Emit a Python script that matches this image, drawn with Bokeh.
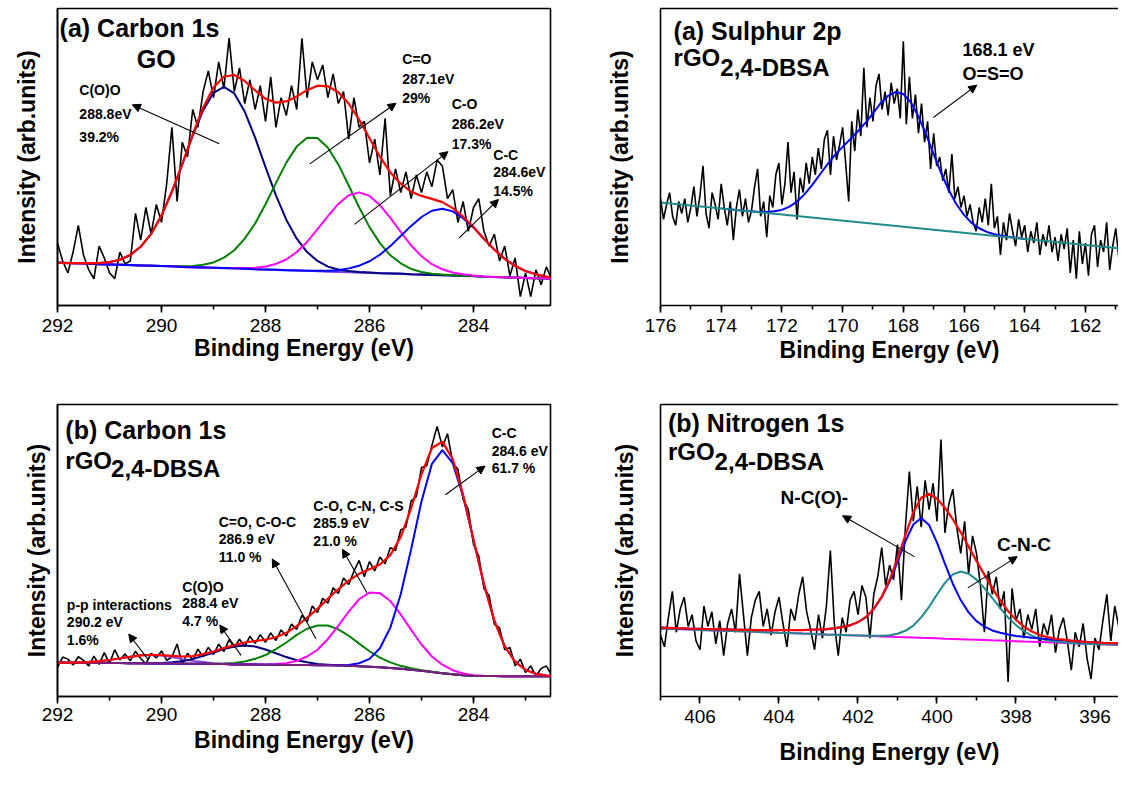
from bokeh.plotting import figure
from bokeh.layouts import column, row
from bokeh.models import (Range1d, SingleIntervalTicker, FixedTicker, Label, Arrow,
                          NormalHead, LinearAxis)
from bokeh.embed import file_html
from bokeh.resources import INLINE

FONT = "Liberation Sans"

# ======================= DATA =======================
# ---- (a) Carbon 1s, GO ----
go_raw_start, go_raw_step = 292.0, 0.1
go_raw = [21, 15, 11, 18, 27, 17, 12, 9, 20, 16,
          11, 9, 18, 14, 15, 31, 22, 33, 24, 34,
          28, 41, 60, 35, 55, 50, 66, 60, 72, 79,
          70, 82, 73, 90, 72, 80, 68, 76, 66, 74,
          62, 77, 60, 70, 64, 74, 66, 90, 70, 82,
          76, 81, 70, 78, 68, 72, 56, 70, 60, 62,
          48, 56, 44, 63, 37, 46, 38, 45, 36, 44,
          38, 45, 40, 49, 47, 36, 39, 28, 35, 25,
          33, 36, 25, 20, 24, 15, 20, 10, 16, 3,
          11, 3, 12, 7, 13, 9]
go_fit_start, go_fit_step = 292.0, 0.2
go_bg = [14.4, 14.3, 14.2, 14.1, 13.9, 13.8, 13.7, 13.6, 13.5, 13.4,
         13.3, 13.2, 13.0, 12.9, 12.8, 12.7, 12.6, 12.5, 12.4, 12.2,
         12.1, 12.0, 11.9, 11.8, 11.7, 11.6, 11.4, 11.3, 11.2, 11.1,
         11.0, 10.9, 10.8, 10.7, 10.5, 10.4, 10.3, 10.2, 10.1, 10.0,
         9.9, 9.7, 9.6, 9.5, 9.4, 9.3, 9.2, 9.1, 8.9]
go_coo = [0, 0, 0.1, 0.2, 0.4, 0.8, 1.7, 3.4, 6.3, 10.7,
          17.0, 25.1, 34.5, 44.3, 52.9, 58.9, 61.0, 58.9, 52.9, 44.3,
          34.5, 25.1, 17.0, 10.7, 6.3, 3.4, 1.7, 0.8, 0.4, 0.2,
          0.1, 0, 0, 0, 0, 0, 0, 0, 0, 0,
          0, 0, 0, 0, 0, 0, 0, 0, 0]
go_c_eq_o = [0, 0, 0, 0, 0, 0, 0, 0, 0, 0,
             0, 0.1, 0.2, 0.4, 0.9, 1.8, 3.5, 6.1, 10.1, 15.4,
             22.0, 29.2, 36.2, 41.7, 44.8, 44.8, 41.7, 36.2, 29.2, 22.0,
             15.4, 10.1, 6.1, 3.5, 1.8, 0.9, 0.4, 0.2, 0.1, 0,
             0, 0, 0, 0, 0, 0, 0, 0, 0]
go_c_o = [0, 0, 0, 0, 0, 0, 0, 0, 0, 0,
          0, 0, 0, 0, 0, 0, 0, 0.1, 0.2, 0.5,
          1.0, 2.0, 3.6, 6.2, 9.7, 14.1, 18.7, 22.9, 25.9, 27.0,
          25.9, 22.9, 18.7, 14.1, 9.7, 6.2, 3.6, 2.0, 1.0, 0.5,
          0.2, 0.1, 0, 0, 0, 0, 0, 0, 0]
go_c_c = [0, 0, 0, 0, 0, 0, 0, 0, 0, 0,
          0, 0, 0, 0, 0, 0, 0, 0, 0, 0,
          0, 0, 0, 0, 0, 0.1, 0.3, 0.6, 1.3, 2.3,
          3.9, 6.2, 9.2, 12.7, 16.3, 19.4, 21.6, 22.4, 21.6, 19.4,
          16.3, 12.7, 9.2, 6.2, 3.9, 2.3, 1.3, 0.6, 0.3]

# ---- (a) Sulphur 2p, rGO 2,4-DBSA ----
s2p_raw_start, s2p_raw_step = 176.0, 0.1
s2p_raw = [36, 29, 34, 38, 30, 27, 35, 31, 36, 28,
           33, 40, 30, 37, 47, 31, 26, 38, 34, 29,
           41, 33, 27, 35, 22, 33, 39, 30, 36, 28,
           32, 40, 46, 30, 35, 23, 37, 33, 44, 48,
           34, 41, 55, 38, 45, 29, 43, 38, 48, 41,
           50, 44, 53, 46, 56, 59, 44, 57, 49, 54,
           60, 48, 35, 62, 52, 66, 57, 80, 60, 70,
           62, 74, 78, 66, 72, 64, 75, 68, 73, 63,
           89, 61, 77, 63, 71, 58, 68, 55, 62, 46,
           58, 47, 50, 42, 46, 38, 51, 36, 40, 33,
           37, 30, 34, 28, 25, 33, 28, 36, 27, 41,
           26, 30, 17, 28, 22, 31, 25, 20, 29, 23,
           27, 18, 25, 21, 28, 17, 24, 20, 27, 18,
           23, 15, 24, 19, 26, 11, 22, 9, 25, 14,
           21, 10, 24, 27, 13, 22, 18, 28, 12, 20,
           26, 16]
s2p_fit_start, s2p_fit_step = 174.0, 0.25
s2p_fit = [32.7, 32.4, 32.15, 31.9, 31.7, 31.5, 31.5, 31.7, 32.2, 33.3,
           35.0, 37.5, 40.6, 44.1, 47.5, 50.7, 53.4, 56.0, 58.6, 61.5,
           64.7, 68.1, 70.6, 71.9, 71.2, 68.4, 63.6, 57.6, 51.0, 44.5,
           38.8, 34.1, 30.5, 27.8, 26.0, 24.8, 24.0, 23.5, 23.05, 22.7,
           22.4]
s2p_bg_energy = [176.0, 160.65]
s2p_bg = [34.7, 19.0]

# ---- (b) Carbon 1s, rGO 2,4-DBSA ----
rgo_raw_start, rgo_raw_step = 292.0, 0.1
rgo_raw = [10.0, 13.5, 12.8, 10.8, 13.6, 12.4, 10.5, 13.8, 11.0, 15.0,
           11.2, 16.0, 12.5, 14.6, 12.2, 15.5, 13.0, 11.2, 14.8, 13.2,
           15.6, 12.4, 13.5, 18.0, 11.0, 14.8, 12.6, 16.2, 13.6, 16.8,
           14.4, 17.9, 15.4, 19.5, 16.8, 19.6, 17.2, 20.6, 18.2, 21.2,
           18.6, 21.8, 19.2, 22.8, 20.7, 24.8, 23.0, 27.8, 25.5, 31.0,
           28.8, 33.6, 32.0, 37.2, 35.3, 40.6, 38.4, 42.9, 46.6, 41.0,
           46.2, 43.0, 47.8, 45.5, 51.0, 50.0, 57.0, 58.0, 67.0, 68.5,
           78.4, 79.0, 86.0, 92.5, 85.5, 90.0, 80.0, 77.8, 67.5, 64.0,
           52.0, 48.2, 37.0, 34.5, 24.8, 23.5, 16.0, 16.8, 10.5, 12.8,
           8.2, 10.5, 7.0, 9.6, 10.5, 7.3]
rgo_fit_start, rgo_fit_step = 292.0, 0.2
rgo_bg = [11.6, 11.6, 11.6, 11.5, 11.5, 11.5, 11.5, 11.4, 11.4, 11.3,
          11.3, 11.3, 11.2, 11.2, 11.2, 11.1, 11.1, 11.0, 11.0, 11.0,
          10.9, 10.9, 10.8, 10.8, 10.8, 10.7, 10.7, 10.6, 10.5, 10.4,
          10.2, 10.0, 9.8, 9.5, 9.2, 8.8, 8.4, 8.0, 7.6, 7.3,
          7.1, 7.0, 7.0, 6.9, 6.9, 6.9, 6.9, 6.9, 6.9]
rgo_pp = [0, 0, 0.1, 0.3, 0.6, 1.0, 1.6, 2.2, 2.7, 2.9,
          2.7, 2.2, 1.6, 1.0, 0.6, 0.3, 0.1, 0, 0, 0,
          0, 0, 0, 0, 0, 0, 0, 0, 0, 0,
          0, 0, 0, 0, 0, 0, 0, 0, 0, 0,
          0, 0, 0, 0, 0, 0, 0, 0, 0]
rgo_coo = [0, 0, 0, 0, 0, 0, 0, 0, 0, 0.1,
           0.2, 0.4, 0.9, 1.6, 2.7, 3.9, 5.2, 6.1, 6.5, 6.1,
           5.2, 3.9, 2.7, 1.6, 0.9, 0.4, 0.2, 0.1, 0, 0,
           0, 0, 0, 0, 0, 0, 0, 0, 0, 0,
           0, 0, 0, 0, 0, 0, 0, 0, 0]
rgo_c_eq_o = [0, 0, 0, 0, 0, 0, 0, 0, 0, 0,
              0, 0, 0, 0, 0, 0.1, 0.2, 0.5, 1.0, 1.9,
              3.3, 5.3, 7.7, 10.3, 12.4, 13.6, 13.6, 12.4, 10.3, 7.7,
              5.3, 3.3, 1.9, 1.0, 0.5, 0.2, 0.1, 0, 0, 0,
              0, 0, 0, 0, 0, 0, 0, 0, 0]
rgo_c_o = [0, 0, 0, 0, 0, 0, 0, 0, 0, 0,
           0, 0, 0, 0, 0, 0, 0, 0, 0, 0,
           0.1, 0.2, 0.6, 1.4, 2.9, 5.3, 9.0, 13.6, 18.6, 22.9,
           25.4, 25.4, 22.9, 18.6, 13.6, 9.0, 5.3, 2.9, 1.4, 0.6,
           0.2, 0.1, 0, 0, 0, 0, 0, 0, 0]
rgo_c_c = [0, 0, 0, 0, 0, 0, 0, 0, 0, 0,
           0, 0, 0, 0, 0, 0, 0, 0, 0, 0,
           0, 0, 0, 0, 0, 0, 0, 0.1, 0.3, 1.0,
           2.7, 6.5, 13.8, 25.5, 41.2, 58.1, 71.3, 76.4, 72.3, 61.2,
           46.4, 31.4, 19.0, 10.3, 5.0, 2.2, 0.9, 0.3, 0.1]

# ---- (b) Nitrogen 1s, rGO 2,4-DBSA ----
n1s_raw_start, n1s_raw_step = 407.0, 0.1
n1s_raw = [21, 17, 27, 36, 22, 30, 34, 24, 28, 19,
           16, 31, 24, 29, 18, 26, 14, 25, 30, 22,
           42, 28, 14, 27, 33, 36, 24, 30, 21, 29,
           34, 25, 17, 30, 26, 35, 41, 29, 23, 16,
           28, 20, 31, 50, 25, 14, 27, 22, 33, 36,
           28, 38, 34, 20, 35, 41, 51, 38, 45, 40,
           52, 33, 58, 77, 60, 72, 58, 74, 64, 73,
           60, 88, 56, 66, 71, 58, 49, 60, 42, 55,
           49, 38, 22, 43, 35, 41, 30, 36, 5, 37,
           26, 30, 20, 28, 23, 30, 17, 25, 21, 28,
           15, 23, 27, 19, 9, 22, 17, 25, 13, 6,
           20, 16, 26, 35, 19, 31, 24, 14, 22]
n1s_fit_start, n1s_fit_step = 407.0, 0.2
n1s_bg = [23.30, 23.20, 23.10, 23.01, 22.91, 22.81, 22.72, 22.62, 22.52, 22.43,
          22.33, 22.23, 22.14, 22.04, 21.94, 21.84, 21.75, 21.65, 21.55, 21.46,
          21.36, 21.26, 21.17, 21.07, 20.97, 20.88, 20.78, 20.68, 20.59, 20.49,
          20.39, 20.30, 20.20, 20.10, 20.01, 19.91, 19.81, 19.72, 19.62, 19.52,
          19.43, 19.33, 19.23, 19.14, 19.04, 18.94, 18.84, 18.75, 18.65, 18.55,
          18.46, 18.36, 18.26, 18.17, 18.07, 17.97, 17.88, 17.78, 17.68, 17.59]
n1s_nco = [0.3, 0.3, 0.3, 0.3, 0.3, 0.4, 0.4, 0.4, 0.5, 0.5,
           0.5, 0.6, 0.6, 0.7, 0.8, 0.9, 1.0, 1.1, 1.2, 1.4,
           1.6, 1.8, 2.2, 2.7, 3.4, 4.6, 6.4, 9.3, 13.4, 18.9,
           25.7, 32.8, 38.7, 41.0, 38.7, 32.8, 25.7, 18.9, 13.4, 9.3,
           6.4, 4.6, 3.4, 2.7, 2.2, 1.8, 1.6, 1.4, 1.2, 1.1,
           1.0, 0.9, 0.8, 0.7, 0.6, 0.6, 0.5, 0.5, 0.5, 0.4]
n1s_cnc = [0, 0, 0, 0, 0, 0, 0, 0, 0, 0,
           0, 0, 0, 0, 0, 0, 0, 0, 0, 0,
           0, 0, 0, 0, 0, 0, 0, 0.1, 0.2, 0.5,
           1.1, 2.2, 4.1, 7.0, 10.7, 15.0, 19.1, 22.1, 23.2, 22.5,
           20.6, 17.8, 14.5, 11.1, 8.0, 5.5, 3.5, 2.1, 1.2, 0.7,
           0.3, 0.2, 0.1, 0, 0, 0, 0, 0, 0, 0]

X_LABEL = "Binding Energy (eV)"
Y_LABEL = "Intensity (arb.units)"


def grid(start, step, n):
    return [round(start - step * i, 3) for i in range(n)]


def add(*series):
    return [round(sum(v), 3) for v in zip(*series)]


# ======================= STYLE HELPERS =======================
def panel(width, height, xr, borders, open_right, ylabel_standoff, xlabel_standoff,
          tick_label_standoff=6):
    left, right, top, bottom = borders
    p = figure(width=width, height=height, x_range=Range1d(*xr), y_range=Range1d(0, 100),
               output_backend="svg", toolbar_location=None,
               min_border_left=left, min_border_right=right,
               min_border_top=top, min_border_bottom=bottom,
               background_fill_color="white", border_fill_color="white")
    p.xgrid.visible = False
    p.ygrid.visible = False
    xa = p.xaxis[0]
    xa.ticker = SingleIntervalTicker(interval=2, num_minor_ticks=2)
    xa.major_tick_out, xa.major_tick_in = 7, 0
    xa.minor_tick_out, xa.minor_tick_in = 4, 0
    xa.axis_line_width = 1.6
    xa.major_tick_line_width = 1.6
    xa.minor_tick_line_width = 1.6
    xa.axis_line_color = "black"
    xa.major_label_text_font = FONT
    xa.major_label_text_font_size = "19px"
    xa.major_label_text_color = "black"
    xa.major_label_standoff = tick_label_standoff
    xa.axis_label = X_LABEL
    xa.axis_label_text_font = FONT
    xa.axis_label_text_font_size = "23px"
    xa.axis_label_text_font_style = "bold"
    xa.axis_label_text_color = "black"
    xa.axis_label_standoff = xlabel_standoff
    ya = p.yaxis[0]
    ya.ticker = FixedTicker(ticks=[])
    ya.major_tick_out = 0
    ya.major_label_standoff = 0
    ya.axis_line_width = 1.6
    ya.axis_line_color = "black"
    ya.axis_label = Y_LABEL
    ya.axis_label_text_font = FONT
    ya.axis_label_text_font_size = "23px"
    ya.axis_label_text_font_style = "bold"
    ya.axis_label_text_color = "black"
    ya.axis_label_standoff = ylabel_standoff
    if open_right:
        p.outline_line_color = None
        top_ax = LinearAxis(ticker=FixedTicker(ticks=[]), major_tick_out=0, major_tick_in=0,
                            major_label_standoff=0, axis_line_width=1.6, axis_line_color="black")
        p.add_layout(top_ax, "above")
    else:
        p.outline_line_color = "black"
        p.outline_line_width = 1.6
        p.outline_line_alpha = 1.0
    return p


def txt(p, x, y, s, size, bold=True, align="left"):
    p.add_layout(Label(x=x, y=y, text=s, text_font=FONT, text_font_size=f"{size}px",
                       text_font_style="bold" if bold else "normal",
                       text_align=align, text_baseline="middle", text_color="black"))


def arrow(p, x0, y0, x1, y1):
    p.add_layout(Arrow(end=NormalHead(size=8, fill_color="black", line_color="black", line_width=1),
                       x_start=x0, y_start=y0, x_end=x1, y_end=y1,
                       line_color="black", line_width=1.1))


RED, BLUE, NAVY, GREEN, MAGENTA = "#FF0000", "#0000FF", "#000080", "#008000", "#FF00FF"
TEAL, VIOLET, PURPLE = "#1F8A8A", "#8040E0", "#7A1F7A"

# ======================= (a) C1s GO =======================
p1 = panel(562, 390, (292.0, 282.52), (57, 12, 5, 75), False, 18, 0)
e_raw = grid(go_raw_start, go_raw_step, len(go_raw))
e_fit = grid(go_fit_start, go_fit_step, len(go_bg))
p1.line(e_raw, go_raw, line_color="black", line_width=1.6)
p1.line(e_fit, go_bg, line_color=VIOLET, line_width=2.2)
p1.line(e_fit, add(go_bg, go_coo), line_color=NAVY, line_width=2)
p1.line(e_fit, add(go_bg, go_c_eq_o), line_color=GREEN, line_width=2)
p1.line(e_fit, add(go_bg, go_c_o), line_color=MAGENTA, line_width=2)
p1.line(e_fit, add(go_bg, go_c_c), line_color=BLUE, line_width=2)
p1.line(e_fit, add(go_bg, go_coo, go_c_eq_o, go_c_o, go_c_c), line_color=RED, line_width=2.2)
txt(p1, 291.96, 93.5, "(a) Carbon 1s", 25)
txt(p1, 290.1, 83.1, "GO", 25, align="center")
txt(p1, 291.58, 72.5, "C(O)O", 14)
txt(p1, 291.58, 64.6, "288.8eV", 14)
txt(p1, 291.58, 56.8, "39.2%", 14)
arrow(p1, 288.89, 54.5, 290.56, 67.6)
txt(p1, 285.37, 83.1, "C=O", 14)
txt(p1, 285.37, 76.4, "287.1eV", 14)
txt(p1, 285.37, 69.9, "29%", 14)
arrow(p1, 287.15, 47.7, 285.49, 68.1)
txt(p1, 284.42, 67.7, "C-O", 14)
txt(p1, 284.42, 61.2, "286.2eV", 14)
txt(p1, 284.42, 54.5, "17.3%", 14)
arrow(p1, 286.29, 27.3, 284.49, 51.8)
txt(p1, 283.62, 50.7, "C-C", 14)
txt(p1, 283.62, 44.8, "284.6eV", 14)
txt(p1, 283.62, 38.6, "14.5%", 14)
arrow(p1, 284.28, 22.7, 283.52, 35.7)

# ======================= (a) S2p =======================
p2 = panel(556, 390, (176.0, 160.91), (98, 0, 8, 85), True, 28, 2)
p2.line(grid(s2p_raw_start, s2p_raw_step, len(s2p_raw)), s2p_raw, line_color="black", line_width=1.6)
p2.line(grid(s2p_fit_start, s2p_fit_step, len(s2p_fit)), s2p_fit, line_color=BLUE, line_width=2)
p2.line(s2p_bg_energy, s2p_bg, line_color=TEAL, line_width=2)
txt(p2, 175.57, 92.5, "(a) Sulphur 2p", 25)
txt(p2, 175.57, 83.5, "rGO", 24)
txt(p2, 174.03, 80.1, "2,4-DBSA", 24)
txt(p2, 166.05, 86.1, "168.1 eV", 18)
txt(p2, 166.05, 78.1, "O=S=O", 18)
arrow(p2, 167.01, 63.3, 165.58, 74.2)

# ======================= (b) C1s rGO =======================
p3 = panel(562, 379, (292.0, 282.52), (57, 12, 14, 61), False, 8, 3, tick_label_standoff=4)
e_raw3 = grid(rgo_raw_start, rgo_raw_step, len(rgo_raw))
e_fit3 = grid(rgo_fit_start, rgo_fit_step, len(rgo_bg))
p3.line(e_raw3, rgo_raw, line_color="black", line_width=1.6)
p3.line(e_fit3, add(rgo_bg, rgo_pp), line_color=VIOLET, line_width=2)
p3.line(e_fit3, add(rgo_bg, rgo_coo), line_color=NAVY, line_width=2)
p3.line(e_fit3, add(rgo_bg, rgo_c_eq_o), line_color=GREEN, line_width=2)
p3.line(e_fit3, add(rgo_bg, rgo_c_o), line_color=MAGENTA, line_width=2)
p3.line(e_fit3, add(rgo_bg, rgo_c_c), line_color=BLUE, line_width=2)
p3.line(e_fit3, rgo_bg, line_color=PURPLE, line_width=2)
p3.line(e_fit3, add(rgo_bg, rgo_pp, rgo_coo, rgo_c_eq_o, rgo_c_o, rgo_c_c), line_color=RED, line_width=2.2)
txt(p3, 291.85, 91.4, "(b) Carbon 1s", 25)
txt(p3, 291.85, 80.7, "rGO", 24)
txt(p3, 290.97, 78.0, "2,4-DBSA", 24)
txt(p3, 283.65, 90.1, "C-C", 14)
txt(p3, 283.65, 84.2, "284.6 eV", 14)
txt(p3, 283.65, 78.2, "61.7 %", 14)
arrow(p3, 284.54, 69.1, 283.78, 78.9)
txt(p3, 287.08, 65.1, "C-O, C-N, C-S", 14)
txt(p3, 287.08, 59.4, "285.9 eV", 14)
txt(p3, 287.08, 53.3, "21.0 %", 14)
arrow(p3, 286.05, 35.5, 286.52, 50.4)
txt(p3, 288.90, 59.7, "C=O, C-O-C", 14)
txt(p3, 288.90, 53.8, "286.9 eV", 14)
txt(p3, 288.90, 47.9, "11.0 %", 14)
arrow(p3, 287.03, 19.8, 287.87, 47.1)
txt(p3, 289.60, 37.5, "C(O)O", 14)
txt(p3, 289.60, 32.0, "288.4 eV", 14)
txt(p3, 289.60, 25.9, "4.7 %", 14)
arrow(p3, 288.47, 14.1, 288.88, 24.5)
txt(p3, 291.82, 31.2, "p-p interactions", 14)
txt(p3, 291.82, 25.4, "290.2 eV", 14)
txt(p3, 291.82, 19.4, "1.6%", 14)
arrow(p3, 290.26, 12.7, 290.63, 21.4)

# ======================= (b) N1s =======================
p4 = panel(556, 379, (407.0, 395.405), (98, 0, 11, 73), True, 23, 13)
e_fit4 = grid(n1s_fit_start, n1s_fit_step, len(n1s_bg))
p4.line(grid(n1s_raw_start, n1s_raw_step, len(n1s_raw)), n1s_raw, line_color="black", line_width=1.6)
p4.line(e_fit4, n1s_bg, line_color=MAGENTA, line_width=2)
p4.line(e_fit4, add(n1s_bg, n1s_cnc), line_color=TEAL, line_width=2)
p4.line(e_fit4, add(n1s_bg, n1s_nco), line_color=BLUE, line_width=2)
p4.line(e_fit4, add(n1s_bg, n1s_nco, n1s_cnc), line_color=RED, line_width=2.2)
txt(p4, 406.81, 93.6, "(b) Nitrogen 1s", 25)
txt(p4, 406.81, 83.8, "rGO", 24)
txt(p4, 405.63, 80.4, "2,4-DBSA", 24)
txt(p4, 403.96, 68.1, "N-C(O)-", 19)
arrow(p4, 400.57, 47.9, 402.39, 61.9)
txt(p4, 398.48, 52.0, "C-N-C", 19)
arrow(p4, 399.22, 37.2, 397.97, 47.9)

layout = column(row(p1, p2), row(p3, p4))
open("out.html", "w").write(file_html(layout, INLINE))
